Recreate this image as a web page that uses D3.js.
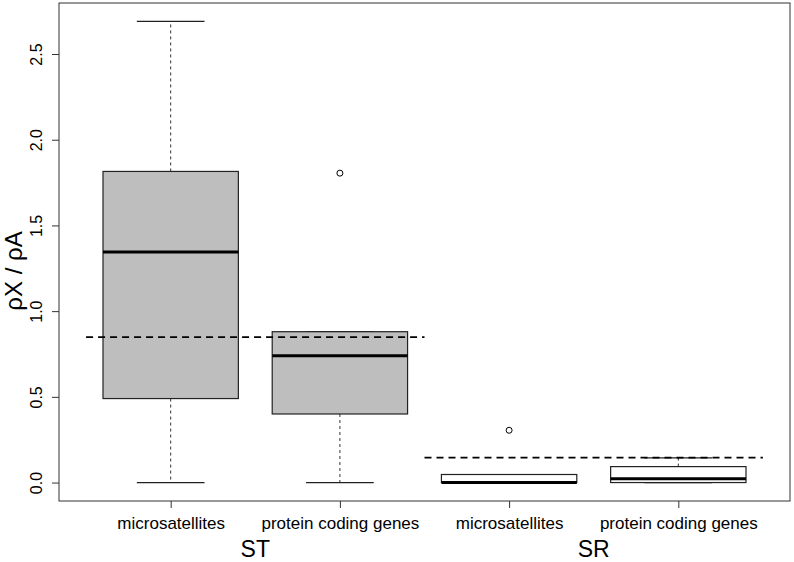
<!DOCTYPE html>
<html>
<head>
<meta charset="utf-8">
<script src="https://cdn.jsdelivr.net/npm/d3@7"></script>
<style>
  body { margin: 0; background: #fff; }
  svg text { font-family: "Liberation Sans", Arial, Helvetica, sans-serif; fill: #000; }
</style>
</head>
<body>
<div class="chart"></div>
<script>
var width = 794,
    height = 562;

// data
var categories = ["microsatellites", "protein coding genes", "microsatellites", "protein coding genes"];
var groups = ["ST", "ST", "SR", "SR"];
var boxFill = ["#bebebe", "#bebebe", "#ffffff", "#ffffff"];
// five-number summaries: lower whisker, q1, median, q3, upper whisker
var lowWhisker = [0.0, 0.0, 0.0, 0.0];
var q1 = [0.49, 0.40, 0.0, 0.0];
var medians = [1.345, 0.74, 0.0, 0.022];
var q3 = [1.815, 0.88, 0.047, 0.093];
var highWhisker = [2.69, 0.88, 0.047, 0.144];
var outliers = [[], [1.805], [0.305], []];
// dashed reference lines per group
var groupNames = ["ST", "SR"];
var groupLevels = [0.848, 0.146];
var groupSpan = [[0.5, 2.5], [2.5, 4.5]];
var yTicks = [0.0, 0.5, 1.0, 1.5, 2.0, 2.5];

var plot = {left: 59, right: 790, top: 3, bottom: 501};

// R style axis range: data range extended by 4% each side
var x = d3.scaleLinear().domain([0.34, 4.66]).range([plot.left, plot.right]);
var y = d3.scaleLinear().domain([-0.1076, 2.7976]).range([plot.bottom, plot.top]);

var svg = d3.select(".chart").append("svg")
            .attr("width", width)
            .attr("height", height);

var boxW = 0.8, capW = 0.4;
var boxes = svg.append("g").attr("class", "boxes");

categories.forEach(function(c, i) {
    var pos = i + 1;
    var g = boxes.append("g");
    // whiskers
    g.append("line")
        .attr("x1", x(pos)).attr("x2", x(pos))
        .attr("y1", y(q3[i])).attr("y2", y(highWhisker[i]))
        .style("stroke", "#333").style("stroke-dasharray", "3,3");
    g.append("line")
        .attr("x1", x(pos)).attr("x2", x(pos))
        .attr("y1", y(q1[i])).attr("y2", y(lowWhisker[i]))
        .style("stroke", "#333").style("stroke-dasharray", "3,3");
    // caps
    [lowWhisker[i], highWhisker[i]].forEach(function(v) {
        g.append("line")
            .attr("x1", x(pos - capW / 2)).attr("x2", x(pos + capW / 2))
            .attr("y1", y(v)).attr("y2", y(v))
            .style("stroke", "#222").style("stroke-width", 1.2);
    });
    // box
    g.append("rect")
        .attr("x", x(pos - boxW / 2))
        .attr("y", y(q3[i]))
        .attr("width", x(pos + boxW / 2) - x(pos - boxW / 2))
        .attr("height", y(q1[i]) - y(q3[i]))
        .style("fill", boxFill[i])
        .style("stroke", "#222")
        .style("stroke-width", 1.2);
    // median
    g.append("line")
        .attr("x1", x(pos - boxW / 2)).attr("x2", x(pos + boxW / 2))
        .attr("y1", y(medians[i])).attr("y2", y(medians[i]))
        .style("stroke", "#000").style("stroke-width", 3);
    // outliers
    g.selectAll("circle")
        .data(outliers[i])
        .enter().append("circle")
        .attr("cx", x(pos))
        .attr("cy", d => y(d))
        .attr("r", 3)
        .style("fill", "none")
        .style("stroke", "#000");
});

// dashed group reference lines
groupNames.forEach(function(gname, i) {
    svg.append("line")
        .attr("x1", x(groupSpan[i][0])).attr("x2", x(groupSpan[i][1]))
        .attr("y1", y(groupLevels[i])).attr("y2", y(groupLevels[i]))
        .style("stroke", "#000")
        .style("stroke-width", 1.8)
        .style("stroke-dasharray", "7,5");
});

// frame
svg.append("rect")
    .attr("x", plot.left).attr("y", plot.top)
    .attr("width", plot.right - plot.left)
    .attr("height", plot.bottom - plot.top)
    .style("fill", "none")
    .style("stroke", "#333");

// y axis
var yAxis = svg.append("g")
    .attr("transform", "translate(" + plot.left + ",0)")
    .call(d3.axisLeft(y).tickValues(yTicks).tickSize(7).tickFormat(d3.format(".1f")));
yAxis.select(".domain").remove();
yAxis.selectAll("line").style("stroke", "#333");
yAxis.selectAll("text")
    .attr("x", 0).attr("dy", null)
    .attr("transform", "translate(-17,0) rotate(-90)")
    .attr("text-anchor", "middle")
    .style("font-size", "16px")
    .style("font-family", "'Liberation Sans', Arial, sans-serif");

// x axis
var xAxis = svg.append("g")
    .attr("transform", "translate(0," + plot.bottom + ")")
    .call(d3.axisBottom(x).tickValues([1, 2, 3, 4]).tickSize(7).tickFormat(d => categories[d - 1]));
xAxis.select(".domain").remove();
xAxis.selectAll("line").style("stroke", "#333");
xAxis.selectAll("text")
    .attr("y", 28).attr("dy", null)
    .style("font-size", "17px")
    .style("font-family", "'Liberation Sans', Arial, sans-serif");

// group labels
groupNames.forEach(function(gname, i) {
    svg.append("text")
        .attr("x", x((groupSpan[i][0] + groupSpan[i][1]) / 2))
        .attr("y", 557)
        .attr("text-anchor", "middle")
        .style("font-size", "23px")
        .text(gname);
});

// y label
svg.append("text")
    .attr("transform", "translate(22,271) rotate(-90)")
    .attr("text-anchor", "middle")
    .style("font-size", "24px")
    .text("ρX / ρA");
</script>
</body>
</html>
